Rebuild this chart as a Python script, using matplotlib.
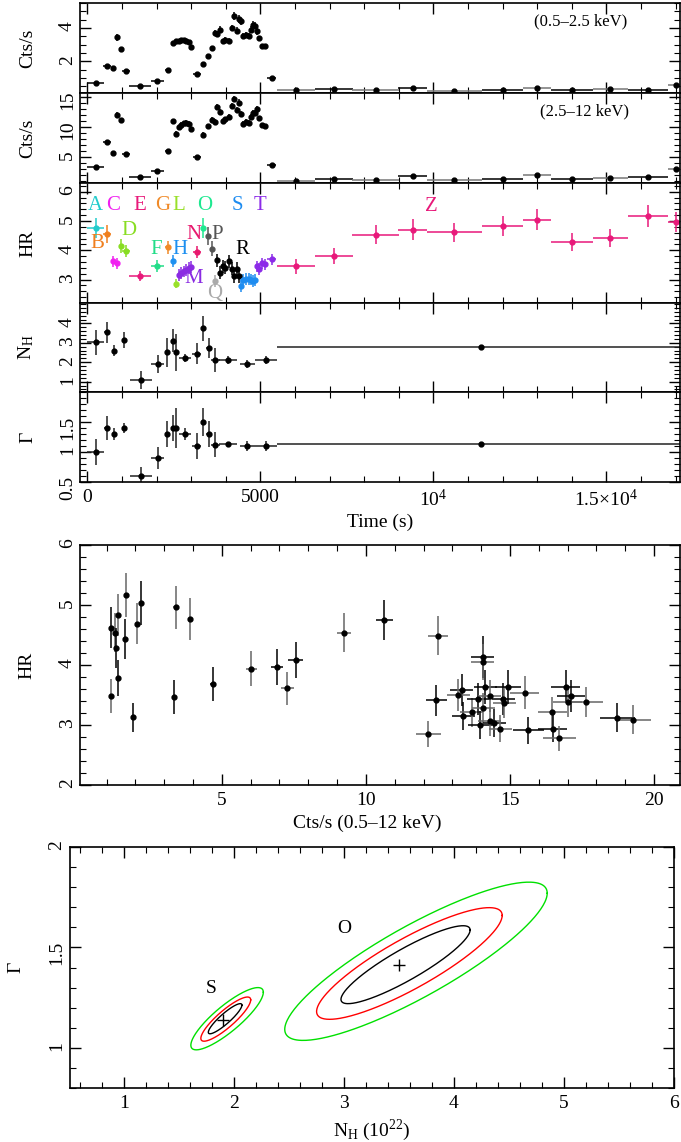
import numpy as np
import matplotlib.pyplot as plt
from matplotlib.ticker import MultipleLocator, FixedLocator, FixedFormatter, NullFormatter, FormatStrFormatter

plt.rcParams['font.family'] = ['Liberation Serif', 'DejaVu Serif']
plt.rcParams['mathtext.fontset'] = 'custom'
plt.rcParams['mathtext.rm'] = 'Liberation Serif'
plt.rcParams['font.size'] = 14

# ---- short time bins (s), with segment letter ----
t_short = [242, 560, 733, 868, 965, 1118, 1523, 2024, 2323, 2467,
           2554, 2640, 2717, 2795, 2862, 2929, 3006, 3161, 3353, 3498,
           3604, 3691, 3758, 3835, 3912, 3989, 4086, 4172, 4240, 4317,
           4375, 4433, 4510, 4587, 4664, 4741, 4799, 4857, 4915, 4973,
           5040, 5136, 5329]
hw_short = [255, 115, 50, 40, 40, 115, 310, 190, 70, 40,
            40, 38, 38, 38, 38, 38, 38, 115, 50, 50,
            50, 40, 38, 38, 38, 38, 38, 38, 38, 38,
            38, 38, 38, 38, 38, 38, 38, 38, 38, 38,
            45, 45, 135]
seg_short = ['A', 'B', 'C', 'C', 'D', 'D', 'E', 'F', 'G', 'H',
             'L', 'M', 'M', 'M', 'M', 'M', 'M', 'N', 'O', 'P',
             'P', 'Q', 'R', 'R', 'R', 'R', 'R', 'R', 'R', 'R',
             'R', 'S', 'S', 'S', 'S', 'S', 'S', 'S', 'T', 'T',
             'T', 'T', 'T']

soft_short = [0.71, 1.70, 1.60, 3.44, 2.74, 1.44, 0.50, 0.80, 1.50, 3.10,
              3.20, 3.24, 3.26, 3.26, 3.24, 3.14, 2.84, 1.24, 1.86, 2.30,
              2.78, 3.70, 3.64, 3.90, 3.20, 3.30, 3.24, 4.00, 4.74, 3.84,
              4.54, 4.40, 3.54, 3.60, 3.54, 3.90, 4.20, 4.14, 3.80, 3.40,
              2.90, 2.90, 1.00]
soft_err_short = [0.06, 0.10, 0.10, 0.20, 0.15, 0.08, 0.05, 0.06, 0.08, 0.12,
                  0.12, 0.12, 0.12, 0.12, 0.12, 0.12, 0.12, 0.06, 0.10, 0.12,
                  0.15, 0.20, 0.20, 0.20, 0.15, 0.15, 0.15, 0.20, 0.25, 0.20,
                  0.25, 0.20, 0.15, 0.15, 0.15, 0.20, 0.20, 0.20, 0.20, 0.15,
                  0.12, 0.12, 0.06]

hard_short = [3.37, 7.53, 5.70, 11.97, 11.13, 5.58, 1.63, 2.75, 6.08, 10.97,
              8.92, 10.03, 10.42, 10.70, 10.75, 10.60, 9.70, 4.97, 8.75, 10.13,
              11.25, 10.90, 13.30, 12.60, 11.00, 11.30, 11.70, 13.50, 14.70, 12.90,
              14.10, 12.20, 10.60, 10.90, 10.70, 11.70, 12.40, 12.30, 13.10, 11.50,
              10.30, 10.20, 3.70]
hard_err_short = [0.25, 0.35, 0.30, 0.50, 0.45, 0.30, 0.20, 0.25, 0.30, 0.40,
                  0.40, 0.40, 0.40, 0.40, 0.40, 0.40, 0.40, 0.30, 0.40, 0.40,
                  0.45, 0.45, 0.50, 0.50, 0.45, 0.45, 0.45, 0.50, 0.55, 0.50,
                  0.55, 0.50, 0.45, 0.45, 0.45, 0.50, 0.50, 0.50, 0.50, 0.45,
                  0.40, 0.40, 0.25]

hr_short = [4.76, 4.55, 3.62, 3.55, 4.15, 3.98, 3.12, 3.46, 4.11, 3.63,
            2.86, 3.15, 3.23, 3.28, 3.33, 3.40, 3.42, 3.94, 4.76, 4.49,
            4.06, 2.95, 3.66, 3.23, 3.45, 3.41, 3.62, 3.37, 3.11, 3.37,
            3.11, 2.77, 3.00, 3.03, 3.03, 3.00, 2.95, 2.98, 3.45, 3.37,
            3.55, 3.52, 3.69]
hr_err_short = [0.35, 0.30, 0.20, 0.20, 0.25, 0.20, 0.18, 0.20, 0.22, 0.20,
                0.15, 0.20, 0.20, 0.20, 0.20, 0.20, 0.20, 0.20, 0.35, 0.30,
                0.25, 0.20, 0.22, 0.22, 0.22, 0.22, 0.22, 0.22, 0.22, 0.22,
                0.22, 0.20, 0.20, 0.20, 0.20, 0.20, 0.20, 0.20, 0.20, 0.20,
                0.20, 0.20, 0.20]

# ---- long time bins (segment Z) ----
t_long = [6030, 7130, 8330, 9407, 10612, 12000, 12997, 14000, 15121, 16214, 17020]
hw_long = [550, 545, 690, 420, 786, 600, 396, 607, 514, 578, 230]
soft_long = [0.30, 0.35, 0.26, 0.41, 0.25, 0.31, 0.41, 0.31, 0.35, 0.31, 0.61]
soft_err_long = [0.04, 0.04, 0.04, 0.05, 0.04, 0.04, 0.05, 0.04, 0.04, 0.04, 0.06]
hard_long = [1.06, 1.30, 1.20, 1.92, 1.15, 1.45, 2.07, 1.30, 1.53, 1.62, 3.03]
hard_err_long = [0.12, 0.12, 0.12, 0.15, 0.12, 0.12, 0.15, 0.12, 0.12, 0.12, 0.2]
hr_long = [3.45, 3.80, 4.54, 4.71, 4.62, 4.83, 5.05, 4.28, 4.43, 5.17, 4.97]
hr_err_long = [0.25, 0.28, 0.31, 0.35, 0.32, 0.33, 0.35, 0.30, 0.30, 0.37, 0.35]

# ---- spectral fits ----
t_fit = [242, 560, 782, 1061, 1543, 2043, 2312, 2468, 2555, 2824,
         3161, 3353, 3526, 3691, 4058, 4624, 5156, 11379]
hw_fit = [240, 75, 50, 60, 323, 188, 45, 45, 45, 168,
          130, 45, 82, 130, 255, 217, 313, 5905]
nh = [3.03, 3.54, 2.60, 3.14, 1.09, 1.91, 2.51, 3.11, 2.51, 2.21,
      2.43, 3.74, 2.72, 2.12, 2.12, 1.91, 2.12, 2.80]
nh_err = [0.64, 0.53, 0.30, 0.41, 0.45, 0.47, 0.73, 0.60, 0.94, 0.21,
          0.54, 0.66, 0.51, 0.62, 0.19, 0.20, 0.19, 0.03]
gamma = [1.00, 1.40, 1.30, 1.40, 0.60, 0.90, 1.30, 1.40, 1.40, 1.30,
         1.10, 1.50, 1.30, 1.12, 1.13, 1.10, 1.10, 1.13]
gamma_err = [0.21, 0.20, 0.10, 0.08, 0.15, 0.19, 0.21, 0.21, 0.33, 0.10,
             0.21, 0.23, 0.21, 0.21, 0.04, 0.08, 0.08, 0.01]

# ---- HR vs total rate ----
rate = [1.15, 1.30, 1.34, 1.41, 1.41, 1.16, 1.63, 1.69, 1.92, 2.07,
        2.21, 3.40, 3.34, 3.90, 4.70, 6.03, 6.91, 7.27, 7.56, 9.25,
        10.64, 12.49, 12.45, 12.17, 14.05, 14.05, 13.32, 13.20, 13.38, 13.67,
        13.90, 14.07, 14.15, 14.29, 13.96, 14.29, 14.45, 14.67, 14.77, 14.81,
        14.94, 15.51, 15.64, 16.47, 16.48, 16.71, 16.93, 17.00, 17.12, 17.64,
        18.73, 19.28]
rate_err = [0.05, 0.05, 0.05, 0.05, 0.05, 0.05, 0.05, 0.05, 0.05, 0.05,
            0.06, 0.08, 0.08, 0.08, 0.10, 0.19, 0.20, 0.23, 0.25, 0.25,
            0.29, 0.35, 0.35, 0.42, 0.40, 0.40, 0.40, 0.40, 0.40, 0.40,
            0.40, 0.40, 0.40, 0.40, 0.40, 0.40, 0.40, 0.40, 0.40, 0.40,
            0.45, 0.50, 0.53, 0.50, 0.50, 0.57, 0.50, 0.50, 0.50, 0.60,
            0.60, 0.60]
hr_all = [4.62, 4.54, 4.28, 4.83, 3.78, 3.48, 4.43, 5.17, 3.13, 4.69,
          5.03, 4.96, 3.47, 4.76, 3.68, 3.94, 3.97, 3.61, 4.09, 4.54,
          4.75, 4.49, 3.41, 2.85, 4.13, 4.05, 3.58, 3.50, 3.15, 3.21,
          3.43, 3.29, 3.63, 3.48, 3.00, 3.06, 3.03, 2.94, 3.43, 3.37,
          3.63, 3.54, 2.91, 3.22, 2.94, 2.78, 3.64, 3.39, 3.48, 3.38,
          3.12, 3.09]
hr_all_err = [0.34, 0.33, 0.33, 0.35, 0.30, 0.28, 0.33, 0.37, 0.24, 0.34,
              0.37, 0.36, 0.28, 0.35, 0.28, 0.29, 0.30, 0.27, 0.30, 0.33,
              0.34, 0.33, 0.26, 0.22, 0.35, 0.30, 0.27, 0.27, 0.24, 0.24,
              0.27, 0.25, 0.28, 0.27, 0.23, 0.24, 0.23, 0.22, 0.27, 0.26,
              0.28, 0.27, 0.22, 0.25, 0.22, 0.21, 0.28, 0.26, 0.27, 0.25,
              0.24, 0.24]

# ---- confidence contours (68, 90, 99 %) : centre, half-extents, correlation ----
o_best = (3.50, 1.41)
o_cx = [3.56, 3.595, 3.655]
o_cy = [1.414, 1.42, 1.431]
o_hx = [0.588, 0.845, 1.195]
o_hy = [0.194, 0.278, 0.394]
o_rho = [0.89, 0.86, 0.86]
s_best = (1.90, 1.14)
s_cx = [1.917, 1.923, 1.935]
s_cy = [1.145, 1.143, 1.145]
s_hx = [0.153, 0.227, 0.33]
s_hy = [0.075, 0.11, 0.155]
s_rho = [0.90, 0.87, 0.85]

seg_colors = {'A': '#22cccc', 'B': '#f07f1e', 'C': '#f020f0', 'D': '#88dd22',
              'E': '#e8197a', 'F': '#22dd88', 'G': '#f08a28', 'H': '#1e90f0',
              'L': '#99e02a', 'M': '#8a2be2', 'N': '#e8196e', 'O': '#1ee890',
              'P': '#555555', 'Q': '#aaaaaa', 'R': 'black', 'S': '#1e8cf0',
              'T': '#8c2be8', 'Z': '#e8197a'}

W, H = 681, 1142
fig = plt.figure(figsize=(W / 100, H / 100), dpi=100)


def add_axes_px(left, top, right, bottom):
    return fig.add_axes([left / W, 1 - bottom / H, (right - left) / W, (bottom - top) / H])


def style(ax, xmaj, xmin, ymaj, ymin):
    ax.xaxis.set_major_locator(xmaj)
    ax.xaxis.set_minor_locator(MultipleLocator(xmin))
    ax.yaxis.set_major_locator(ymaj)
    ax.yaxis.set_minor_locator(MultipleLocator(ymin))
    ax.yaxis.set_major_formatter(FormatStrFormatter('%g'))
    ax.tick_params(which='both', direction='in', top=True, right=True, labelsize=14)
    ax.tick_params(which='major', length=8, width=1)
    ax.tick_params(which='minor', length=4, width=0.8)
    ax.tick_params(axis='y', labelrotation=90, pad=3)
    ax.tick_params(axis='x', pad=5)
    for s in ax.spines.values():
        s.set_linewidth(1.2)


eb = dict(fmt='o', ms=3.5, capsize=0, elinewidth=1.1)
t_lim = (-211, 17130)

# ---- light curves ----
panels = [(3, 93), (93, 183), (183, 303), (303, 392), (392, 482)]
axs = [add_axes_px(80, top, 680, bot) for top, bot in panels]

for ax, yshort, eshort, ylong, elong in [(axs[0], soft_short, soft_err_short, soft_long, soft_err_long),
                                         (axs[1], hard_short, hard_err_short, hard_long, hard_err_long)]:
    ax.errorbar(t_short, yshort, xerr=hw_short, yerr=eshort, color='black', **eb)
    for i in range(len(t_long)):
        ecol = '#777777' if i % 2 == 0 else 'black'
        ax.errorbar(t_long[i], ylong[i], xerr=hw_long[i], yerr=elong[i],
                    color='black', ecolor=ecol, **eb)

axs[0].set_ylim(0.1, 5.5)
axs[1].set_ylim(0.7, 15.7)
axs[0].text(0.835, 0.80, '(0.5\u20132.5 keV)', transform=axs[0].transAxes, fontsize=12, ha='center', va='center')
axs[1].text(0.84, 0.80, '(2.5\u201312 keV)', transform=axs[1].transAxes, fontsize=12, ha='center', va='center')

# hardness ratio coloured by segment
ax = axs[2]
seg_all = seg_short + ['Z'] * len(t_long)
t_all = t_short + t_long
hw_all = hw_short + hw_long
hr_t = hr_short + hr_long
hr_t_err = hr_err_short + hr_err_long
for letter, col in seg_colors.items():
    idx = [i for i, s in enumerate(seg_all) if s == letter]
    if not idx:
        continue
    ax.errorbar([t_all[i] for i in idx], [hr_t[i] for i in idx],
                xerr=[hw_all[i] for i in idx], yerr=[hr_t_err[i] for i in idx],
                color=col, **eb)
letter_pos = {'A': (243, 5.54), 'C': (752, 5.54), 'E': (1503, 5.54), 'G': (2168, 5.54),
              'L': (2650, 5.54), 'O': (3382, 5.54), 'S': (4347, 5.54), 'T': (4991, 5.54),
              'B': (280, 4.23), 'D': (1214, 4.68), 'F': (1977, 4.02), 'H': (2688, 4.02),
              'N': (3084, 4.55), 'P': (3749, 4.55), 'R': (4480, 4.02), 'M': (3075, 3.03),
              'Q': (3691, 2.52), 'Z': (9954, 5.50)}
for letter, (tx, ty) in letter_pos.items():
    ax.text(tx, ty, letter, color=seg_colors[letter], fontsize=15, ha='center', va='center')
ax.set_ylim(2.2, 6.3)

axs[3].errorbar(t_fit, nh, xerr=hw_fit, yerr=nh_err, color='black', ecolor='#222222', **eb)
axs[3].set_ylim(0.47, 5.05)
axs[4].errorbar(t_fit, gamma, xerr=hw_fit, yerr=gamma_err, color='black', ecolor='#222222', **eb)
axs[4].set_ylim(0.5, 2.0)

ylocs = [FixedLocator([2, 4]), FixedLocator([5, 10, 15]), FixedLocator([3, 4, 5, 6]),
         FixedLocator([1, 2, 3, 4]), FixedLocator([0.5, 1, 1.5])]
yminor = [0.5, 1, 0.2, 0.2, 0.1]
ylabels = ['Cts/s', 'Cts/s', 'HR', r'$\mathregular{N_H}$', '\u0393']
for ax, yl, ym, lab in zip(axs, ylocs, yminor, ylabels):
    style(ax, MultipleLocator(5000), 1000, yl, ym)
    ax.set_xlim(*t_lim)
    ax.set_ylabel(lab, fontsize=14)
    ax.yaxis.set_label_coords(-0.073, 0.5)
    if ax is not axs[-1]:
        ax.xaxis.set_major_formatter(NullFormatter())
axs[-1].xaxis.set_major_locator(FixedLocator([0, 5000, 10000, 15000]))
axs[-1].xaxis.set_major_formatter(FixedFormatter(['0', '5000', r'$\mathregular{10^4}$',
                                                  r'$\mathregular{1.5{\times}10^4}$']))
axs[-1].set_xlabel('Time (s)', fontsize=14)
axs[-1].xaxis.set_label_coords(0.5, -0.35)

# ---- HR vs count rate ----
ax = add_axes_px(80, 545, 680, 785)
for i in range(len(rate)):
    ecol = 'black' if i % 2 == 0 else '#666666'
    ax.errorbar(rate[i], hr_all[i], xerr=rate_err[i], yerr=hr_all_err[i],
                color='black', ecolor=ecol, **eb)
style(ax, MultipleLocator(5), 1, MultipleLocator(1), 0.2)
ax.set_xlim(0.08, 20.9)
ax.set_ylim(2, 6)
ax.set_xlabel('Cts/s (0.5\u201312 keV)', fontsize=14)
ax.xaxis.set_label_coords(0.478, -0.125)
ax.set_ylabel('HR', fontsize=14)
ax.yaxis.set_label_coords(-0.075, 0.5)

# ---- contours ----
ax = add_axes_px(69.5, 847, 673.5, 1088)
level_colors = ['black', '#ff0000', '#00e000']
th = np.linspace(0, 2 * np.pi, 300)
for cxs, cys, hxs, hys, rhos in [(o_cx, o_cy, o_hx, o_hy, o_rho), (s_cx, s_cy, s_hx, s_hy, s_rho)]:
    for cx, cy, hx, hy, rho, col in zip(cxs, cys, hxs, hys, rhos, level_colors):
        ex = cx + hx * np.cos(th)
        ey = cy + hy * (rho * np.cos(th) + np.sqrt(1 - rho ** 2) * np.sin(th))
        ax.plot(ex, ey, color=col, lw=1.0)
ax.plot(*o_best, marker='+', color='black', ms=8, mew=1)
ax.plot(*s_best, marker='+', color='black', ms=8, mew=1)
ax.text(3.0, 1.595, 'O', fontsize=14, ha='center', va='center')
ax.text(1.79, 1.295, 'S', fontsize=14, ha='center', va='center')
style(ax, MultipleLocator(1), 0.2, MultipleLocator(0.5), 0.1)
ax.set_xlim(0.5, 6)
ax.set_ylim(0.8, 2.0)
ax.set_xlabel(r'$\mathregular{N_H}$ (10$^{\mathregular{22}}$)', fontsize=14)
ax.xaxis.set_label_coords(0.5, -0.12)
ax.set_ylabel('\u0393', fontsize=14)
ax.yaxis.set_label_coords(-0.075, 0.5)

fig.savefig('out.png', dpi=100)
